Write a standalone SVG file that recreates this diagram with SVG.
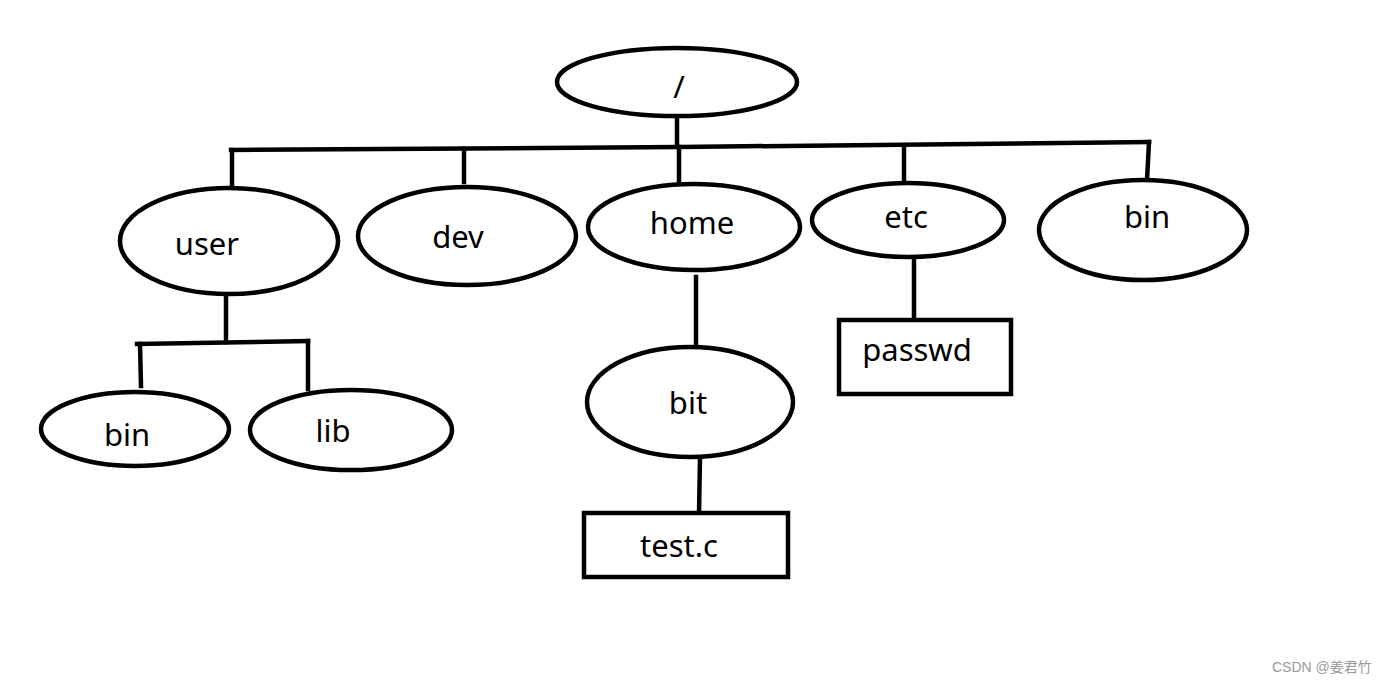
<svg xmlns="http://www.w3.org/2000/svg" width="1387" height="685" viewBox="0 0 1387 685">
<style>
.n{fill:#fff;stroke:#000;stroke-width:4.5}
.c{fill:none;stroke:#000;stroke-width:4.5;stroke-linecap:square}
.t{font-family:"Noto Sans","Open Sans",sans-serif;font-size:31px;fill:#000;text-anchor:middle;dominant-baseline:central}
.w{font-family:"Liberation Sans","Noto Sans CJK SC",sans-serif;font-size:14px;fill:#999}
</style>
<rect width="1387" height="685" fill="#fff"/>
<g id="connectors">
<path class="c" d="M677 118V146"/>
<path class="c" d="M231 150L680 147L1149 142"/>
<path class="c" d="M232 150V187"/>
<path class="c" d="M464 149V182"/>
<path class="c" d="M679 147V184"/>
<path class="c" d="M904 146V182"/>
<path class="c" d="M1149 142L1147 180"/>
<path class="c" d="M226 294V342"/>
<path class="c" d="M137 344L308 341"/>
<path class="c" d="M140 344L141 386"/>
<path class="c" d="M308 341V389"/>
<path class="c" d="M696 277V344"/>
<path class="c" d="M700 458L699 514"/>
<path class="c" d="M914 259V320"/>
</g>
<g id="root"><ellipse class="n" cx="677" cy="82" rx="120" ry="34"/><text class="t" x="679" y="86">/</text></g>
<g id="user"><ellipse class="n" cx="229" cy="241" rx="109" ry="53"/><text class="t" x="207" y="243">user</text></g>
<g id="dev"><ellipse class="n" cx="467" cy="236" rx="109" ry="49"/><text class="t" x="458" y="236">dev</text></g>
<g id="home"><ellipse class="n" cx="694" cy="227" rx="106" ry="43"/><text class="t" x="692" y="222">home</text></g>
<g id="etc"><ellipse class="n" cx="908" cy="220" rx="96" ry="37"/><text class="t" x="906" y="216">etc</text></g>
<g id="bin"><ellipse class="n" cx="1143" cy="230" rx="104" ry="50"/><text class="t" x="1147" y="216">bin</text></g>
<g id="user-bin"><ellipse class="n" cx="135" cy="429" rx="94" ry="37"/><text class="t" x="127" y="434">bin</text></g>
<g id="lib"><ellipse class="n" cx="351" cy="430" rx="101" ry="40"/><text class="t" x="333" y="430">lib</text></g>
<g id="bit"><ellipse class="n" cx="690" cy="402" rx="103" ry="55"/><text class="t" x="688" y="402">bit</text></g>
<g id="passwd"><rect class="n" x="839" y="320" width="172" height="74"/><text class="t" x="917" y="349">passwd</text></g>
<g id="testc"><rect class="n" x="584" y="513" width="204" height="64"/><text class="t" x="679" y="545">test.c</text></g>
<text class="w" x="1272" y="672">CSDN @姜君竹</text>
</svg>
